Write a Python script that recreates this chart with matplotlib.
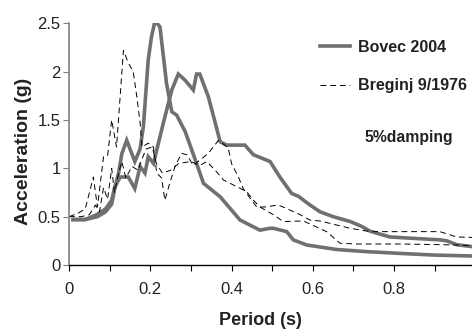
import matplotlib
matplotlib.use("Agg")
import matplotlib.pyplot as plt

# Bovec 2004, two horizontal components (thick gray)
bovec_a_t = [0.01, 0.04, 0.07, 0.09, 0.105, 0.113, 0.122, 0.13, 0.142, 0.162, 0.175, 0.183,
             0.195, 0.203, 0.212, 0.224, 0.24, 0.253, 0.265, 0.286, 0.314, 0.331, 0.372,
             0.421, 0.47, 0.495, 0.503, 0.536, 0.552, 0.585, 0.659, 0.733, 0.815, 0.896, 0.992]
bovec_a_g = [0.47, 0.47, 0.5, 0.55, 0.63, 0.8, 0.95, 1.15, 1.29, 1.07, 1.2, 1.43,
             2.12, 2.36, 2.53, 2.46, 1.88, 1.585, 1.55, 1.38, 1.05, 0.845, 0.706,
             0.465, 0.36, 0.38, 0.38, 0.345, 0.26, 0.207, 0.16, 0.138, 0.12, 0.103, 0.093]

bovec_b_t = [0.01, 0.04, 0.068, 0.09, 0.105, 0.113, 0.126, 0.146, 0.162, 0.175, 0.187, 0.195,
             0.208, 0.216, 0.232, 0.253, 0.269, 0.286, 0.306, 0.314, 0.322, 0.343, 0.355,
             0.372, 0.388, 0.433, 0.454, 0.495, 0.519, 0.548, 0.565, 0.59, 0.618, 0.65,
             0.692, 0.72, 0.741, 0.765, 0.79, 0.85, 0.913, 0.93, 0.954, 0.992]
bovec_b_g = [0.47, 0.47, 0.52, 0.58, 0.67, 0.81, 0.91, 0.91, 0.79, 1.02, 0.95, 1.12,
             1.05, 1.19, 1.465, 1.81, 1.975, 1.91, 1.81, 1.975, 1.975, 1.74, 1.55,
             1.275, 1.24, 1.24, 1.14, 1.07, 0.91, 0.74, 0.71, 0.63, 0.55, 0.5,
             0.45, 0.4, 0.35, 0.32, 0.29, 0.275, 0.26, 0.25, 0.21, 0.19]

# Breginj 9/1976, two components (thin dashed)
breginj_a_t = [0.0, 0.02, 0.04, 0.06, 0.07, 0.085, 0.095, 0.105, 0.117, 0.134, 0.146, 0.158,
               0.167, 0.175, 0.18, 0.195, 0.208, 0.216, 0.228, 0.236, 0.249, 0.261, 0.277,
               0.29, 0.306, 0.343, 0.368, 0.392, 0.40, 0.417, 0.429, 0.446, 0.462, 0.482,
               0.515, 0.527, 0.569, 0.593, 0.618, 0.692, 0.741, 0.913, 0.954, 0.992]
breginj_a_g = [0.5, 0.53, 0.58, 0.91, 0.6, 1.12, 1.13, 1.5, 1.22, 2.22, 2.09, 2.0,
               1.74, 1.47, 1.22, 1.26, 1.22, 0.95, 0.9, 0.67, 0.86, 1.02, 1.155,
               1.14, 1.03, 1.155, 1.29, 1.21, 1.05, 0.91, 0.79, 0.69, 0.6, 0.6,
               0.62, 0.6, 0.52, 0.465, 0.455, 0.38, 0.345, 0.345, 0.29, 0.285]

breginj_b_t = [0.0, 0.03, 0.05, 0.065, 0.075, 0.085, 0.095, 0.105, 0.112, 0.122, 0.13, 0.14,
               0.155, 0.17, 0.18, 0.19, 0.205, 0.215, 0.23, 0.25, 0.27, 0.3, 0.322, 0.339,
               0.36, 0.38, 0.413, 0.437, 0.454, 0.47, 0.503, 0.527, 0.577, 0.634, 0.667,
               0.708, 0.823, 0.954, 0.992]
breginj_b_g = [0.5, 0.5, 0.52, 0.62, 0.55, 0.8, 0.68, 1.0, 0.75, 0.95, 1.07, 0.9,
               1.02, 0.98, 1.1, 1.2, 1.22, 1.05, 0.95, 0.98, 1.05, 1.07, 1.03, 1.07,
               0.98, 0.88, 0.81, 0.76, 0.67, 0.6, 0.52, 0.45, 0.455, 0.345, 0.225,
               0.217, 0.217, 0.207, 0.2]

x_ticks = [0, 0.2, 0.4, 0.6, 0.8]
x_tick_labels = ["0", "0.2", "0.4", "0.6", "0.8"]
y_ticks = [0, 0.5, 1, 1.5, 2, 2.5]
y_tick_labels = ["0", "0.5", "1", "1.5", "2", "2.5"]

plt.rcParams['font.family'] = ['Liberation Sans', 'DejaVu Sans']

fig = plt.figure(figsize=(4.72, 3.3), dpi=100)
ax = fig.add_axes([0.1462, 0.197, 0.8538, 0.7324])

gray = '#707070'
ax.plot(bovec_a_t, bovec_a_g, color=gray, lw=2.6, solid_joinstyle='miter', label='Bovec 2004')
ax.plot(bovec_b_t, bovec_b_g, color=gray, lw=2.6, solid_joinstyle='miter')
ax.plot(breginj_a_t, breginj_a_g, color='black', lw=0.7, dashes=(6, 4), label='Breginj 9/1976')
ax.plot(breginj_b_t, breginj_b_g, color='black', lw=0.7, dashes=(6, 4))

ax.set_xlim(0, 0.992)
ax.set_ylim(0, 2.5)
ax.set_xticks(x_ticks)
ax.set_xticklabels(x_tick_labels)
ax.set_xticks([0.1, 0.3, 0.5, 0.7, 0.9], minor=True)
ax.set_yticks(y_ticks)
ax.set_yticklabels(y_tick_labels)

for s in ['top', 'right']:
    ax.spines[s].set_visible(False)
ax.spines['left'].set_color('#808080')
ax.spines['left'].set_linewidth(1.2)
ax.spines['bottom'].set_color('black')
ax.spines['bottom'].set_linewidth(1.0)

ax.tick_params(axis='x', which='both', direction='out', length=4, width=0.8,
               labelsize=12, pad=8, colors='black')
ax.tick_params(axis='y', direction='out', length=4, width=0.8, labelsize=12, pad=2,
               color='#808080', labelcolor='#222222')
ax.tick_params(axis='x', labelcolor='#222222')

ax.set_xlabel('Period (s)', fontsize=13, fontweight='bold', color='#222222')
ax.xaxis.set_label_coords(0.474, -0.195)
ax.set_ylabel('Acceleration (g)', fontsize=14, fontweight='bold', color='#222222')
ax.yaxis.set_label_coords(-0.093, 0.47)

leg = ax.legend(loc='upper left', bbox_to_anchor=(320 / 472, 1 - 40 / 330),
                bbox_transform=fig.transFigure, frameon=False, borderpad=0,
                borderaxespad=0, handlelength=1.9, handletextpad=0.5,
                labelspacing=1.45, prop={'weight': 'bold', 'size': 11.5})
for t in leg.get_texts():
    t.set_color('#222222')

ax.text(0.844, 0.527, '5%damping', transform=ax.transAxes, ha='center', va='center',
        fontweight='bold', fontsize=11.3, color='#222222')

fig.savefig('out.png', dpi=100)
